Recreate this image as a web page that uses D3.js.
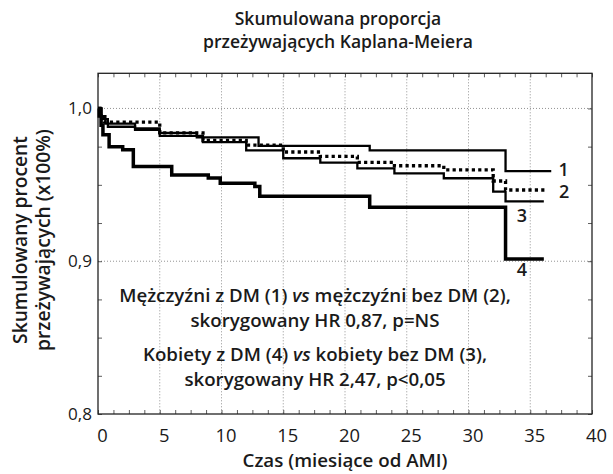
<!DOCTYPE html>
<html>
<head>
<meta charset="utf-8">
<script src="https://cdn.jsdelivr.net/npm/d3@7"></script>
<style>
  body { margin: 0; background: #fff; }
  text { font-family: "Open Sans", sans-serif; font-weight: 600; fill: #1a1a1a; }
</style>
</head>
<body>
<svg class="chart"></svg>
<script>
// Kaplan-Meier curves (months, cumulative survival).
var curve1Time = [0, 0.2, 0.6, 3.0, 5.0, 8.0, 13.0, 22.0, 33.0, 36.7];
var curve1Surv = [1.0, 0.995, 0.990, 0.987, 0.984, 0.981, 0.9755, 0.9726, 0.959, 0.959];

var curve2Time = [0, 0.2, 0.5, 5.0, 8.5, 12.0, 15.0, 18.0, 21.0, 24.0, 28.0, 32.0, 33.0, 36.2];
var curve2Surv = [1.0, 0.996, 0.991, 0.984, 0.979, 0.976, 0.9715, 0.9686, 0.9647, 0.9625, 0.9598, 0.9525, 0.9466, 0.9466];

var curve3Time = [0, 0.3, 0.8, 3.0, 5.0, 8.5, 12.0, 15.0, 18.0, 21.0, 24.0, 28.0, 32.0, 33.0, 36.1];
var curve3Surv = [1.0, 0.993, 0.988, 0.986, 0.982, 0.978, 0.9725, 0.9674, 0.9645, 0.9608, 0.9575, 0.9543, 0.9455, 0.9392, 0.9392];

var curve4Time = [0, 0.1, 0.25, 0.4, 0.9, 2.0, 2.86, 5.97, 8.93, 9.9, 12.7, 13.1, 22.0, 33.0, 36.1];
var curve4Surv = [1.0, 0.995, 0.989, 0.9827, 0.975, 0.9729, 0.962, 0.9565, 0.9544, 0.9511, 0.9489, 0.9425, 0.9353, 0.9014, 0.9014];

var curveNames = ['1', '2', '3', '4'];
var xTicks = [0, 5, 10, 15, 20, 25, 30, 35, 40];
var yTicks = [0.8, 0.9, 1.0];

var titleLines = ['Skumulowana proporcja', 'przeżywających Kaplana-Meiera'];
var yTitleLines = ['Skumulowany procent', 'przeżywających (x100%)'];
var xTitle = 'Czas (miesiące od AMI)';
var noteLines = [
  ['Mężczyźni z DM (1) ', 'vs', ' mężczyźni bez DM (2),'],
  ['skorygowany HR 0,87, p=NS'],
  ['Kobiety z DM (4) ', 'vs', ' kobiety bez DM (3),'],
  ['skorygowany HR 2,47, p<0,05']
];

var width = 613, height = 474;
var margin = {top: 73.3, right: 21, bottom: 60, left: 98};

var svg = d3.select('.chart').attr('width', width).attr('height', height);

var x = d3.scaleLinear().domain([0, 40]).range([margin.left, width - margin.right]);
var y = d3.scaleLinear().domain([0.8, 1.023]).range([height - margin.bottom, margin.top]);

// scale a group of text lines so that one of them takes the given width
function fitWidth(sel, refIndex, target) {
  var node = sel.nodes()[refIndex];
  var size = parseFloat(d3.select(node).style('font-size'));
  var w = node.getComputedTextLength();
  sel.style('font-size', (size * target / w).toFixed(2) + 'px');
}

// grid
svg.append('g').selectAll('line')
    .data(xTicks.slice(1, -1))
    .join('line')
    .attr('x1', d => x(d)).attr('x2', d => x(d))
    .attr('y1', y.range()[1]).attr('y2', y.range()[0])
    .attr('stroke', '#777').attr('stroke-width', 0.8)
    .attr('stroke-dasharray', '1,2');
svg.append('g').selectAll('line')
    .data(yTicks.slice(1))
    .join('line')
    .attr('x1', x.range()[0]).attr('x2', x.range()[1])
    .attr('y1', d => y(d)).attr('y2', d => y(d))
    .attr('stroke', '#777').attr('stroke-width', 0.8)
    .attr('stroke-dasharray', '1,2');

// minor ticks on all four sides, pointing inward
var minorX = d3.range(0, 40.001, 1.25);
var minorY = d3.range(0.8, 1.0226, 0.025);
function minor(sel) {
  sel.select('.domain').remove();
  sel.selectAll('text').remove();
  sel.selectAll('line').attr('stroke', '#333').attr('stroke-width', 0.8);
}
svg.append('g').attr('transform', 'translate(0,' + y(0.8) + ')')
    .call(d3.axisBottom(x).tickValues(minorX).tickSize(-4)).call(minor);
svg.append('g').attr('transform', 'translate(0,' + y.range()[1] + ')')
    .call(d3.axisTop(x).tickValues(minorX).tickSize(-4)).call(minor);
svg.append('g').attr('transform', 'translate(' + x(0) + ',0)')
    .call(d3.axisLeft(y).tickValues(minorY).tickSize(-4)).call(minor);
svg.append('g').attr('transform', 'translate(' + x(40) + ',0)')
    .call(d3.axisRight(y).tickValues(minorY).tickSize(-4)).call(minor);

// frame
svg.append('rect')
    .attr('x', x(0)).attr('y', y.range()[1])
    .attr('width', x(40) - x(0)).attr('height', y(0.8) - y.range()[1])
    .attr('fill', 'none').attr('stroke', '#222').attr('stroke-width', 1.3);

// tick labels
var fmt = d => d3.format('.1f')(d).replace('.', ',');
var xAxis = svg.append('g').attr('transform', 'translate(0,' + y(0.8) + ')')
    .call(d3.axisBottom(x).tickValues(xTicks).tickSize(0).tickPadding(15));
xAxis.select('.domain').remove();
xAxis.selectAll('text').attr('fill', '#1a1a1a').attr('dx', 4)
    .style('font-family', '"Open Sans", sans-serif').style('font-weight', 400).style('font-size', '16px');

var yAxis = svg.append('g').attr('transform', 'translate(' + x(0) + ',0)')
    .call(d3.axisLeft(y).tickValues(yTicks).tickFormat(fmt).tickSize(0).tickPadding(6));
yAxis.select('.domain').remove();
yAxis.selectAll('text').attr('fill', '#1a1a1a')
    .style('font-family', '"Open Sans", sans-serif').style('font-weight', 400).style('font-size', '16px');
fitWidth(yAxis.selectAll('text'), 1, 24);
fitWidth(xAxis.selectAll('text'), 0, 10.5);

// curves
var series = [
  {name: curveNames[0], t: curve1Time, s: curve1Surv, w: 2.3, dash: null, dx: 12.5, dy: 0},
  {name: curveNames[1], t: curve2Time, s: curve2Surv, w: 3.3, dash: '3.2,3.2', dx: 19, dy: 3.5},
  {name: curveNames[2], t: curve3Time, s: curve3Surv, w: 2.3, dash: null, dx: -22, dy: 15.5},
  {name: curveNames[3], t: curve4Time, s: curve4Surv, w: 3.5, dash: null, dx: -22, dy: 12.5}
];
var line = d3.line().x(d => x(d[0])).y(d => y(d[1])).curve(d3.curveStepAfter);

series.forEach(function(c) {
  var pts = c.t.map((t, i) => [t, c.s[i]]);
  svg.append('path')
      .datum(pts)
      .attr('d', line)
      .attr('fill', 'none')
      .attr('stroke', '#000')
      .attr('stroke-width', c.w)
      .attr('stroke-dasharray', c.dash);
  var last = pts[pts.length - 1];
  svg.append('text')
      .attr('x', x(last[0]) + c.dx)
      .attr('y', y(last[1]) + c.dy)
      .attr('text-anchor', 'middle')
      .attr('dominant-baseline', 'middle')
      .style('font-size', '18px')
      .text(c.name);
});

// annotation
var noteY = [296.5, 321.5, 355.5, 380.5];
var notes = svg.selectAll('text.note')
    .data(noteLines)
    .join('text')
    .attr('class', 'note')
    .attr('x', 315).attr('y', (d, i) => noteY[i])
    .attr('text-anchor', 'middle')
    .attr('dominant-baseline', 'middle')
    .style('font-size', '17px');
notes.selectAll('tspan')
    .data(d => d)
    .join('tspan')
    .style('font-style', p => p === 'vs' ? 'italic' : 'normal')
    .text(p => p);
fitWidth(notes, 0, 392);

// titles
var titles = svg.selectAll('text.title')
    .data(titleLines)
    .join('text')
    .attr('class', 'title')
    .attr('x', 338).attr('y', (d, i) => 20 + i * 23)
    .attr('text-anchor', 'middle')
    .attr('dominant-baseline', 'middle')
    .style('font-size', '16px')
    .text(d => d);
fitWidth(titles, 1, 270);

var yTitles = svg.selectAll('text.ytitle')
    .data(yTitleLines)
    .join('text')
    .attr('class', 'ytitle')
    .attr('transform', (d, i) => 'translate(' + (22 + i * 23) + ',240) rotate(-90)')
    .attr('text-anchor', 'middle')
    .attr('dominant-baseline', 'middle')
    .style('font-size', '17px')
    .text(d => d);
fitWidth(yTitles, 1, 222);

var xTitleText = svg.append('text')
    .attr('x', 345).attr('y', 462)
    .attr('text-anchor', 'middle')
    .attr('dominant-baseline', 'middle')
    .style('font-size', '17px')
    .text(xTitle);
fitWidth(xTitleText, 0, 205);
</script>
</body>
</html>
